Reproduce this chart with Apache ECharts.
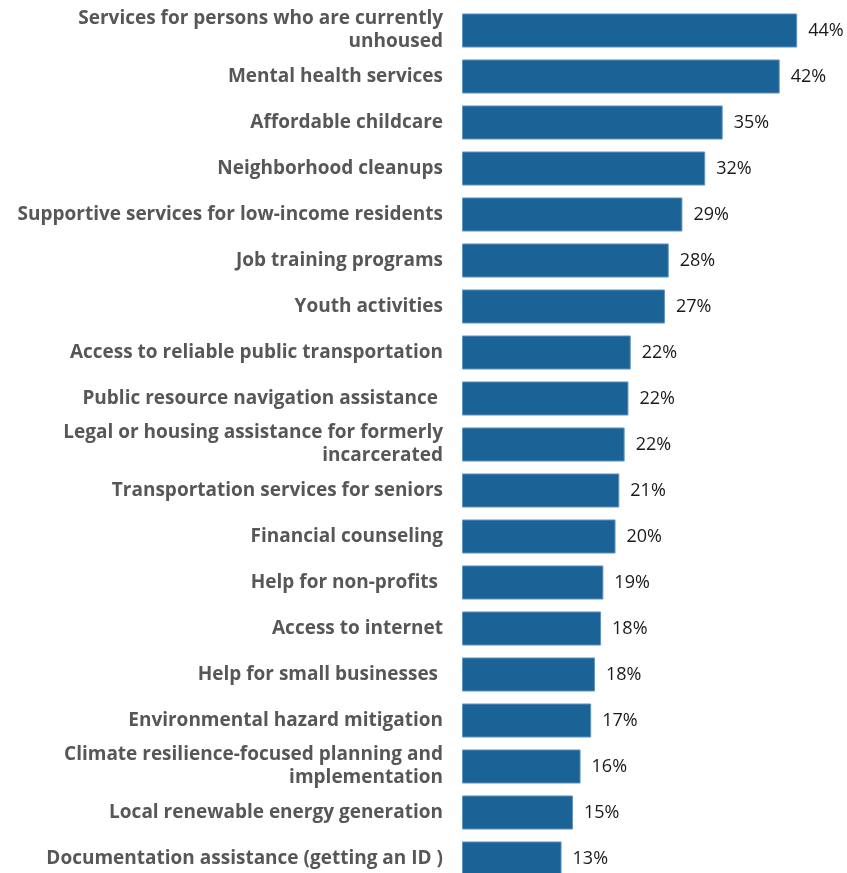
<!DOCTYPE html>
<html>
<head>
<meta charset="utf-8">
<script src="https://cdn.jsdelivr.net/npm/echarts@6/dist/echarts.min.js"></script>
<style>
html,body{margin:0;padding:0;background:#fff;overflow:hidden;}
#chart{width:847px;height:890px;}
</style>
</head>
<body>
<div id="chart"></div>
<script>
const categories = [
  "Services for persons who are currently\nunhoused",
  "Mental health services",
  "Affordable childcare",
  "Neighborhood cleanups",
  "Supportive services for low-income residents",
  "Job training programs",
  "Youth activities",
  "Access to reliable public transportation",
  "Public resource navigation assistance ",
  "Legal or housing assistance for formerly\nincarcerated",
  "Transportation services for seniors",
  "Financial counseling",
  "Help for non-profits ",
  "Access to internet",
  "Help for small businesses ",
  "Environmental hazard mitigation",
  "Climate resilience-focused planning and\nimplementation",
  "Local renewable energy generation",
  "Documentation assistance (getting an ID )"
];
// bar lengths as drawn (percent)
const values = [44.1, 41.8, 34.3, 32.0, 29.0, 27.2, 26.7, 22.2, 21.9, 21.4, 20.7, 20.2, 18.6, 18.3, 17.5, 17.0, 15.6, 14.6, 13.1];
// printed value labels
const valueLabels = ["44%", "42%", "35%", "32%", "29%", "28%", "27%", "22%", "22%", "22%", "21%", "20%", "19%", "18%", "18%", "17%", "16%", "15%", "13%"];

const chart = echarts.init(document.getElementById('chart'), null, {renderer: 'canvas'});
chart.setOption({
  animation: false,
  backgroundColor: '#ffffff',
  grid: {left: 462, top: 7.5, width: 380, height: 874, containLabel: false},
  xAxis: {
    type: 'value', min: 0, max: 50,
    show: false
  },
  yAxis: {
    type: 'category',
    inverse: true,
    data: categories,
    axisLine: {show: false},
    axisTick: {show: false},
    axisLabel: {
      margin: 19,
      fontFamily: 'Open Sans',
      fontWeight: 'bold',
      fontSize: 19,
      lineHeight: 23,
      color: '#575757',
      align: 'right'
    }
  },
  series: [{
    type: 'bar',
    data: values,
    barCategoryGap: '26%',
    itemStyle: {color: '#1b6396', borderColor: '#5f93c0', borderWidth: 1},
    label: {
      show: true,
      position: 'right',
      distance: 11,
      fontFamily: 'Open Sans',
      fontSize: 18,
      color: '#1a1a1a',
      formatter: p => valueLabels[p.dataIndex]
    }
  }]
});
</script>
</body>
</html>
